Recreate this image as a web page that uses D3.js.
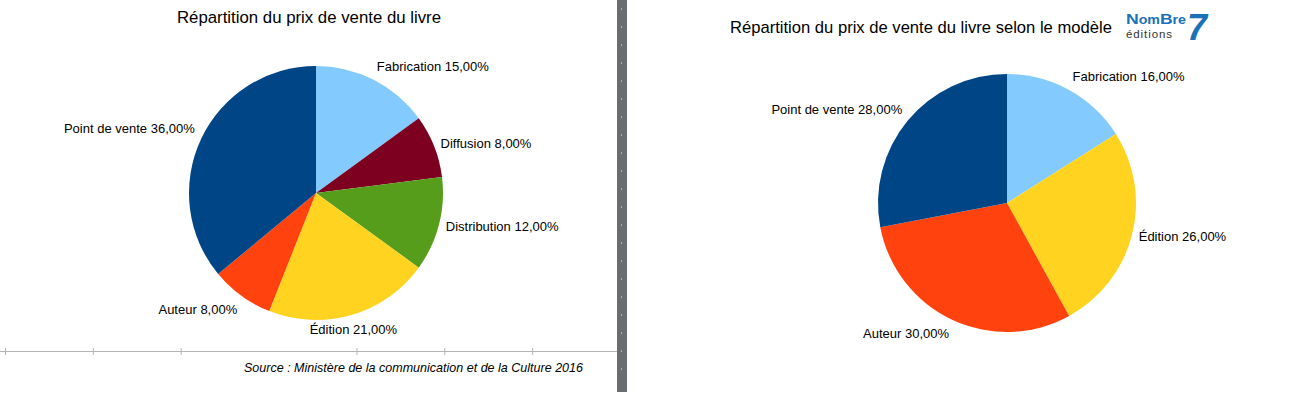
<!DOCTYPE html>
<html>
<head>
<meta charset="utf-8">
<script src="https://cdn.jsdelivr.net/npm/d3@7"></script>
<style>
  html, body { margin: 0; padding: 0; background: #fff; }
  svg { display: block; font-family: "Liberation Sans", Arial, sans-serif; }
</style>
</head>
<body>
<svg id="chart" width="1300" height="400"></svg>
<script>
// two pies: official split (left) vs the publisher's model (right)
const leftCats = ['Fabrication', 'Diffusion', 'Distribution', 'Édition', 'Auteur', 'Point de vente'];
const leftVals = [15, 8, 12, 21, 8, 36];
const rightCats = ['Fabrication', 'Édition', 'Auteur', 'Point de vente'];
const rightVals = [16, 26, 30, 28];
const sliceColors = {
  'Fabrication': '#83caff',
  'Diffusion': '#7e0021',
  'Distribution': '#579d1c',
  'Édition': '#ffd320',
  'Auteur': '#ff420e',
  'Point de vente': '#004586'
};
const axisTicks = [0, 1, 2, 4, 5, 6, 7]; // tick slots along the baseline (slot 3 not drawn)

const svg = d3.select('#chart');
const fmt = v => d3.format('.2f')(v).replace('.', ',') + '%';

function pieChart(cats, vals, cx, cy, r) {
  const data = cats.map((c, i) => ({ cat: c, val: vals[i] }));
  const arcs = d3.pie().sort(null).value(d => d.val)(data);
  const arc = d3.arc().innerRadius(0).outerRadius(r);
  const g = svg.append('g').attr('transform', `translate(${cx},${cy})`);
  g.selectAll('path').data(arcs).join('path')
    .attr('d', arc)
    .attr('fill', d => sliceColors[d.data.cat]);

  // labels sit just outside the rim, anchored by the side they fall on
  g.selectAll('text').data(arcs).join('text')
    .each(function (d) {
      const a = (d.startAngle + d.endAngle) / 2;
      const s = Math.sin(a), c = -Math.cos(a);
      const rr = r + 7;
      const t = d3.select(this)
        .attr('x', s * rr).attr('y', c * rr)
        .attr('font-size', 13).attr('fill', '#000')
        .attr('text-anchor', Math.abs(s) < 0.35 ? 'middle' : s > 0 ? 'start' : 'end')
        .text(`${d.data.cat} ${fmt(d.data.val)}`);
      if (c < -0.4) t.attr('dy', '-0.2em');
      else if (c > 0.5) t.attr('dy', '0.95em');
      else t.attr('dy', '0.35em');
    });
}

// left panel
svg.append('text').attr('x', 309).attr('y', 23).attr('text-anchor', 'middle')
  .attr('font-size', 16.8).text('Répartition du prix de vente du livre');
pieChart(leftCats, leftVals, 316, 193, 127);

const x = d3.scaleLinear().domain([0, 7]).range([5, 620]);
svg.append('line').attr('x1', 0).attr('x2', 620).attr('y1', 351.5).attr('y2', 351.5)
  .attr('stroke', '#b4b4b4').attr('stroke-width', 1);
svg.selectAll('line.tick').data(axisTicks).join('line').attr('class', 'tick')
  .attr('x1', d => x(d) + 0.5).attr('x2', d => x(d) + 0.5)
  .attr('y1', 348).attr('y2', 355)
  .attr('stroke', '#b4b4b4').attr('stroke-width', 1);
svg.append('text').attr('x', 244).attr('y', 372)
  .attr('font-size', 13).attr('font-style', 'italic').attr('fill', '#000')
  .attr('textLength', 339).attr('lengthAdjust', 'spacingAndGlyphs')
  .text('Source : Ministère de la communication et de la Culture 2016');

// gray divider with its dotted grip
svg.append('rect').attr('x', 617).attr('y', 0).attr('width', 10).attr('height', 392)
  .attr('fill', '#696c70');
svg.selectAll('circle.grip').data(d3.range(21)).join('circle').attr('class', 'grip')
  .attr('cx', 621.5).attr('cy', i => 9 + i * 18).attr('r', 0.6).attr('fill', '#fff');

// right panel
svg.append('text').attr('x', 730).attr('y', 33)
  .attr('font-size', 16.6).text('Répartition du prix de vente du livre selon le modèle');
pieChart(rightCats, rightVals, 1007, 203, 129);

// publisher logo
const logo = svg.append('g').attr('transform', 'translate(1126,0)');
const nb = logo.append('text').attr('x', 0).attr('y', 24).attr('fill', '#1b72b8')
  .attr('font-weight', 700).attr('textLength', 60).attr('lengthAdjust', 'spacingAndGlyphs');
nb.append('tspan').attr('font-size', 15.5).text('N');
nb.append('tspan').attr('font-size', 12.5).text('om');
nb.append('tspan').attr('font-size', 15.5).text('B');
nb.append('tspan').attr('font-size', 12.5).text('re');
logo.append('text').attr('x', 61).attr('y', 40).attr('fill', '#1b72b8')
  .attr('font-weight', 700).attr('font-size', 36).attr('font-style', 'italic').text('7');
logo.append('text').attr('x', 0).attr('y', 38).attr('fill', '#333')
  .attr('font-size', 11.5).attr('textLength', 46).text('éditions');
</script>
</body>
</html>
